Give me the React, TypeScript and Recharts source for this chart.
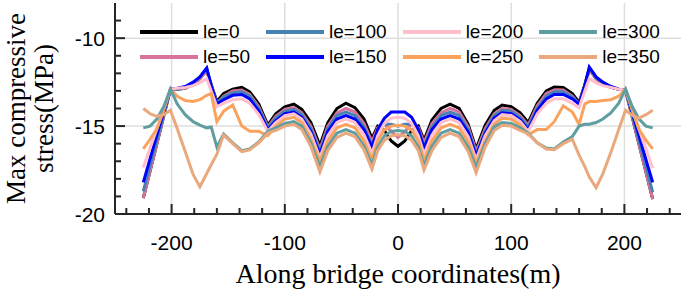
import React from 'react';
import { LineChart, Line, XAxis, YAxis, ReferenceLine, Legend } from 'recharts';

// along-bridge positions (m)
const positions = [
  -225, -219, -213, -207, -201, -195, -188, -181, -175, -169,
  -165, -160, -154, -146, -138, -131, -123, -115, -108, -100,
  -92, -85, -77, -69, -62, -54, -46, -38, -30, -23,
  -18, -12, -6, 0, 6, 12, 18, 23, 30, 38,
  46, 54, 62, 69, 77, 85, 92, 100, 108, 115,
  123, 131, 138, 146, 154, 160, 165, 169, 175, 181,
  188, 195, 201, 207, 213, 219, 225,
];

// max compressive stress (MPa) per le value
const le0 = [
  -19.1, -17.55, -16.0, -14.45, -12.9, -12.9, -12.85, -12.6, -12.3, -11.8,
  -12.65, -13.6, -13.15, -12.9, -12.8, -13.05, -13.75, -14.95, -14.3, -13.9,
  -13.75, -14.05, -14.8, -16.1, -14.8, -14.0, -13.7, -13.95, -14.6, -15.7,
  -15.0, -15.25, -15.85, -16.15, -15.85, -15.25, -15.0, -15.8, -14.65, -14.0,
  -13.75, -14.0, -14.9, -16.3, -14.95, -14.1, -13.8, -13.9, -14.25, -14.8,
  -13.7, -13.0, -12.78, -12.8, -13.15, -13.65, -12.65, -11.75, -12.3, -12.6,
  -12.8, -12.9, -12.95, -14.5, -16.05, -17.6, -19.15,
];
const le50 = [
  -19.1, -17.55, -16.0, -14.45, -12.9, -12.9, -12.85, -12.6, -12.3, -11.85,
  -12.7, -13.7, -13.3, -13.0, -12.95, -13.2, -13.9, -15.05, -14.45, -14.05,
  -13.95, -14.25, -15.0, -16.3, -15.0, -14.25, -14.0, -14.2, -14.85, -15.9,
  -15.1, -14.9, -15.3, -15.65, -15.3, -14.9, -15.1, -15.95, -14.85, -14.25,
  -14.0, -14.2, -15.05, -16.45, -15.15, -14.3, -14.0, -14.05, -14.4, -14.95,
  -13.85, -13.15, -12.95, -12.95, -13.3, -13.75, -12.7, -11.8, -12.3, -12.6,
  -12.8, -12.9, -12.95, -14.5, -16.05, -17.6, -19.15,
];
const le100 = [
  -18.7, -17.25, -15.8, -14.35, -12.9, -12.9, -12.8, -12.55, -12.2, -11.7,
  -12.7, -13.7, -13.35, -13.1, -13.05, -13.3, -14.0, -15.1, -14.55, -14.15,
  -14.05, -14.35, -15.15, -16.45, -15.15, -14.4, -14.2, -14.4, -15.05, -16.1,
  -15.3, -14.9, -14.9, -15.0, -14.9, -14.9, -15.3, -16.15, -15.05, -14.4,
  -14.2, -14.4, -15.2, -16.6, -15.3, -14.4, -14.1, -14.15, -14.5, -15.05,
  -14.0, -13.3, -13.05, -13.05, -13.35, -13.75, -12.7, -11.7, -12.25, -12.55,
  -12.75, -12.9, -12.95, -14.4, -15.85, -17.3, -18.75,
];
const le150 = [
  -18.2, -16.85, -15.5, -14.2, -12.9, -12.85, -12.75, -12.5, -12.2, -11.7,
  -12.7, -13.75, -13.5, -13.25, -13.2, -13.45, -14.15, -15.2, -14.7, -14.3,
  -14.2, -14.5, -15.3, -16.6, -15.3, -14.6, -14.4, -14.6, -15.2, -16.2,
  -15.2, -14.55, -14.2, -14.2, -14.2, -14.5, -15.2, -16.25, -15.2, -14.6,
  -14.4, -14.6, -15.35, -16.7, -15.4, -14.55, -14.25, -14.3, -14.65, -15.2,
  -14.1, -13.45, -13.2, -13.2, -13.45, -13.75, -12.7, -11.65, -12.2, -12.5,
  -12.75, -12.9, -12.95, -14.25, -15.55, -16.9, -18.2,
];
const le200 = [
  -17.35, -16.25, -15.15, -14.0, -12.9, -12.85, -12.8, -12.7, -12.55, -12.3,
  -13.0, -13.9, -13.7, -13.5, -13.45, -13.7, -14.35, -15.3, -14.8, -14.4,
  -14.3, -14.6, -15.45, -16.8, -15.55, -14.8, -14.6, -14.8, -15.5, -16.55,
  -15.55, -14.85, -14.55, -14.5, -14.55, -14.85, -15.55, -16.6, -15.5, -14.8,
  -14.6, -14.8, -15.6, -16.9, -15.55, -14.7, -14.35, -14.4, -14.75, -15.3,
  -14.3, -13.7, -13.45, -13.45, -13.7, -13.95, -13.0, -12.3, -12.55, -12.7,
  -12.8, -12.9, -12.95, -14.05, -15.2, -16.3, -17.4,
];
const le250 = [
  -16.3, -15.75, -15.15, -14.1, -12.9, -13.3, -13.55, -13.6, -13.5, -13.25,
  -13.15, -14.75, -14.15, -13.8, -15.0, -15.3, -15.3, -15.55, -15.0, -14.6,
  -14.5, -14.8, -15.75, -17.0, -15.85, -15.1, -14.9, -15.1, -15.85, -16.9,
  -15.85, -15.2, -15.0, -14.95, -15.0, -15.2, -15.85, -16.95, -15.85, -15.1,
  -14.9, -15.1, -15.9, -17.1, -15.85, -14.9, -14.55, -14.6, -14.95, -15.5,
  -15.2, -15.2, -14.75, -13.85, -14.2, -14.9, -13.75, -13.6, -13.6, -13.55,
  -13.5, -13.3, -12.9, -14.1, -15.2, -15.8, -16.3,
];
const le300 = [
  -15.1, -15.0, -14.6, -13.9, -12.9, -13.75, -14.35, -14.75, -14.95, -15.1,
  -15.05, -16.2, -15.45, -15.95, -16.4, -16.3, -15.9, -15.3, -15.1, -14.85,
  -14.75, -15.0, -15.95, -17.3, -16.15, -15.4, -15.2, -15.4, -16.15, -17.2,
  -16.2, -15.55, -15.3, -15.25, -15.3, -15.55, -16.2, -17.25, -16.15, -15.4,
  -15.2, -15.4, -16.2, -17.35, -16.0, -15.05, -14.8, -14.85, -15.1, -15.4,
  -15.95, -16.25, -16.3, -15.9, -15.6, -15.0, -14.9, -14.9, -14.8, -14.6,
  -14.25, -13.7, -12.9, -13.9, -14.6, -15.0, -15.1,
];
const le350 = [
  -14.0, -14.3, -14.45, -14.35, -14.1, -15.15, -16.45, -17.75, -18.45, -17.7,
  -17.2, -16.6, -15.5, -16.0, -16.45, -16.35, -15.95, -15.4, -15.25, -15.0,
  -14.9, -15.2, -16.15, -17.6, -16.4, -15.65, -15.4, -15.6, -16.35, -17.45,
  -16.4, -15.8, -15.55, -15.5, -15.55, -15.8, -16.4, -17.5, -16.4, -15.65,
  -15.4, -15.6, -16.45, -17.65, -16.2, -15.25, -14.95, -15.0, -15.25, -15.45,
  -15.95, -16.3, -16.35, -16.0, -15.75, -16.65, -17.3, -17.9, -18.5, -17.7,
  -16.5, -15.2, -14.1, -14.4, -14.55, -14.35, -14.1,
];

const seriesKeys = ['le0', 'le50', 'le100', 'le150', 'le200', 'le250', 'le300', 'le350'];
const seriesNames = ['le=0', 'le=50', 'le=100', 'le=150', 'le=200', 'le=250', 'le=300', 'le=350'];
const seriesColors = ['#000000', '#d8739a', '#4682b4', '#0000ff', '#ffc0cb', '#f9a35e', '#5f9ea0', '#e9a87d'];

const xTicks = [-240, -220, -200, -180, -160, -140, -120, -100, -80, -60, -40, -20, 0, 20, 40, 60, 80, 100, 120, 140, 160, 180, 200, 220, 240];
const xGrid = [-200, -100, 0, 100, 200];
const yTicks = [-20, -19, -18, -17, -16, -15, -14, -13, -12, -11, -10, -9];
const yGrid = [-10, -15];

const allSeries = [le0, le50, le100, le150, le200, le250, le300, le350];
const data = positions.map((x, i) => {
  const row: Record<string, number> = { x };
  seriesKeys.forEach((k, j) => { row[k] = allSeries[j][i]; });
  return row;
});

const sans = '"Liberation Sans", Arial, sans-serif';
const serif = '"Liberation Serif", "Times New Roman", serif';
const frame = '#262626';

const BottomTick = (props: any) => {
  const { x, y, payload } = props;
  const major = payload.value % 100 === 0;
  return (
    <g>
      <line x1={x} x2={x} y1={y} y2={y - (major ? 10 : 6)} stroke={frame} strokeWidth={2} />
      {major && (
        <text x={x} y={y + 36} textAnchor="middle" fontSize={21} fontFamily={sans} fill="#000">
          {payload.value}
        </text>
      )}
    </g>
  );
};

const TopTick = (props: any) => {
  const { x, y, payload } = props;
  const major = payload.value % 100 === 0;
  return <line x1={x} x2={x} y1={y} y2={y + (major ? 10 : 6)} stroke={frame} strokeWidth={2} />;
};

const LeftTick = (props: any) => {
  const { x, y, payload } = props;
  const major = payload.value % 5 === 0;
  return (
    <g>
      <line x1={x} x2={x + (major ? 10 : 6)} y1={y} y2={y} stroke={frame} strokeWidth={2} />
      {major && (
        <text x={x - 10} y={y} dy="0.36em" textAnchor="end" fontSize={21} fontFamily={sans} fill="#000">
          {payload.value}
        </text>
      )}
    </g>
  );
};

const RightTick = (props: any) => {
  const { x, y, payload } = props;
  const major = payload.value % 5 === 0;
  return <line x1={x} x2={x - (major ? 10 : 6)} y1={y} y2={y} stroke={frame} strokeWidth={2} />;
};

const renderLegend = (props: any) => {
  const payload = [...(props.payload || [])].sort(
    (a: any, b: any) => seriesNames.indexOf(a.value) - seriesNames.indexOf(b.value)
  );
  return (
    <div
      style={{
        display: 'grid',
        gridTemplateRows: 'repeat(2, 25px)',
        gridAutoFlow: 'column',
        columnGap: 16,
      }}
    >
      {payload.map((entry: any) => (
        <div key={entry.value} style={{ display: 'flex', alignItems: 'center' }}>
          <span style={{ display: 'inline-block', width: 58, height: 4, background: entry.color, marginRight: 5 }} />
          <span style={{ fontSize: 19, fontFamily: sans, color: '#000', lineHeight: '25px' }}>{entry.value}</span>
        </div>
      ))}
    </div>
  );
};

export default function App() {
  return (
    <div style={{ position: 'absolute', left: 0, top: 0, background: '#fff' }}>
      <LineChart width={685} height={293} data={data} margin={{ top: 3, right: 4, bottom: 0, left: 0 }}>
        <XAxis
          dataKey="x"
          type="number"
          domain={[-250, 250]}
          ticks={xTicks}
          interval={0}
          height={79}
          tickSize={0}
          tickMargin={0}
          tickLine={false}
          tick={<BottomTick />}
          axisLine={{ stroke: frame, strokeWidth: 2 }}
          allowDataOverflow
          label={(p: any) => {
            const vb = p.viewBox;
            return (
              <text x={vb.x + vb.width / 2} y={vb.y + 69} textAnchor="middle" fontSize={28} fontFamily={serif} fill="#000">
                Along bridge coordinates(m)
              </text>
            );
          }}
        />
        <XAxis
          xAxisId="top"
          orientation="top"
          type="number"
          domain={[-250, 250]}
          ticks={xTicks}
          interval={0}
          height={0}
          tickSize={0}
          tickMargin={0}
          tickLine={false}
          tick={<TopTick />}
          axisLine={{ stroke: frame, strokeWidth: 2 }}
          allowDataOverflow
        />
        <YAxis
          type="number"
          domain={[-20, -8]}
          ticks={yTicks}
          interval={0}
          width={115}
          tickSize={0}
          tickMargin={0}
          tickLine={false}
          tick={<LeftTick />}
          axisLine={{ stroke: frame, strokeWidth: 2 }}
          allowDataOverflow
          label={(p: any) => {
            const vb = p.viewBox;
            const cy = vb.y + vb.height / 2;
            return (
              <g fontSize={27} fontFamily={serif} fill="#000">
                <text transform={`translate(25, ${cy}) rotate(-90)`} textAnchor="middle">Max compressive</text>
                <text transform={`translate(53, ${cy}) rotate(-90)`} textAnchor="middle">stress(MPa)</text>
              </g>
            );
          }}
        />
        <YAxis
          yAxisId="right"
          orientation="right"
          type="number"
          domain={[-20, -8]}
          ticks={yTicks}
          interval={0}
          width={0}
          tickSize={0}
          tickMargin={0}
          tickLine={false}
          tick={<RightTick />}
          axisLine={{ stroke: frame, strokeWidth: 2 }}
          allowDataOverflow
        />
        {xGrid.map((v) => (
          <ReferenceLine key={'gx' + v} x={v} stroke="#dedede" strokeWidth={1.5} />
        ))}
        {yGrid.map((v) => (
          <ReferenceLine key={'gy' + v} y={v} stroke="#dedede" strokeWidth={1.5} />
        ))}
        <Legend
          layout="horizontal"
          verticalAlign="middle"
          align="center"
          content={renderLegend}
          wrapperStyle={{ left: 140, top: 19, width: 'auto' }}
        />
        {seriesKeys.map((k, i) => (
          <Line
            key={k}
            dataKey={k}
            name={seriesNames[i]}
            type="linear"
            stroke={seriesColors[i]}
            strokeWidth={3}
            dot={false}
            isAnimationActive={false}
          />
        ))}
      </LineChart>
    </div>
  );
}
